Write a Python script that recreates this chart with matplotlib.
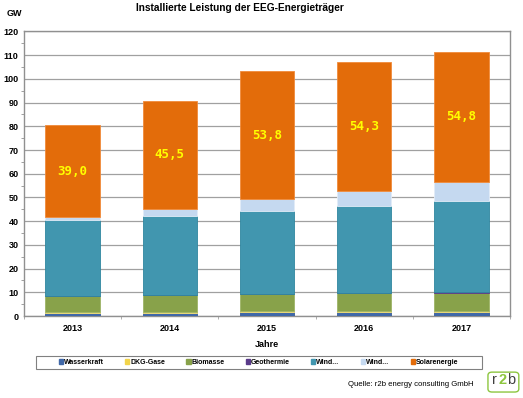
import numpy as np
import matplotlib
matplotlib.use('Agg')
import matplotlib.pyplot as plt
from matplotlib.patches import FancyBboxPatch, Patch, Rectangle

# data (GW)
years = ['2013', '2014', '2015', '2016', '2017']
wasserkraft = [1.4, 1.4, 1.5, 1.6, 1.6]
dkg_gase = [0.5, 0.5, 0.5, 0.5, 0.5]
biomasse = [6.4, 6.8, 7.2, 7.4, 7.8]
geothermie = [0.03, 0.03, 0.03, 0.04, 0.04]
wind_onshore = [32.1, 33.4, 35.0, 37.0, 38.7]
wind_offshore = [1.2, 3.1, 5.1, 6.2, 7.9]
solar = [39.0, 45.5, 53.8, 54.3, 54.8]

series = [wasserkraft, dkg_gase, biomasse, geothermie, wind_onshore, wind_offshore, solar]
names = ['Wasserkraft', 'DKG-Gase', 'Biomasse', 'Geothermie', 'Wind...', 'Wind...', 'Solarenergie']
colors = ['#4068A8', '#F2D44A', '#88A24A', '#5A3A8A', '#4196AF', '#C5D9F0', '#E36C0A']
edges = ['#3A5E98', '#F6E27A', '#9DB466', '#5A3A8A', '#2F86A0', '#E2ECF8', '#F08A3A']

plt.rcParams['font.family'] = ['Liberation Sans', 'DejaVu Sans']

fig = plt.figure(figsize=(5.23, 3.98), dpi=100)
ax = fig.add_axes([0.046, 0.206, 0.929, 0.715])

x = np.arange(len(years))
bottom = np.zeros(len(years))
for vals, c, ec in zip(series, colors, edges):
    ax.bar(x, vals, 0.56, bottom=bottom, color=c, edgecolor=ec, linewidth=0.6, zorder=3)
    bottom += np.array(vals)

# labels for the solar values
solar_base = bottom - np.array(solar)
for i, v in enumerate(solar):
    ax.text(x[i], solar_base[i] + v / 2, f'{v:.1f}'.replace('.', ','), ha='center', va='center',
            color='#FFFF00', fontsize=9, fontweight='bold', family='DejaVu Sans Mono', zorder=4)

ax.set_xlim(-0.5, len(years) - 0.5)
ax.set_ylim(0, 120)
ax.set_yticks(range(0, 121, 10))
ax.set_yticks(range(5, 120, 10), minor=True)
ax.set_xticks(x)
ax.set_xticklabels(years)
ax.set_xticks(np.arange(-0.5, len(years), 1), minor=True)
ax.tick_params(axis='x', which='major', length=0, labelsize=6.5, pad=6)
ax.tick_params(axis='x', which='minor', length=2, color='#A0A0A0')
ax.tick_params(axis='y', which='major', length=0, labelsize=6.5, pad=4)
ax.tick_params(axis='y', which='minor', length=2, color='#909090')
for lab in ax.get_xticklabels() + ax.get_yticklabels():
    lab.set_fontweight('bold')

ax.yaxis.grid(True, color='#A0A0A0', linewidth=0.9, zorder=0)
for s in ax.spines.values():
    s.set_color('#909090')
    s.set_linewidth(1.0)

ax.set_xlabel('Jahre', fontsize=6.5, fontweight='bold', labelpad=5)

fig.text(0.459, 0.98, 'Installierte Leistung der EEG-Energieträger', ha='center', va='center',
         fontsize=7.3, fontweight='bold')
fig.text(0.012, 0.967, 'GW', ha='left', va='center', fontsize=6.5, fontweight='bold')

# legend with a manual frame
fig.patches.append(Rectangle((36 / 523, 1 - 369 / 398), 446 / 523, 13.5 / 398, transform=fig.transFigure,
                             facecolor='white', edgecolor='#808080', linewidth=0.8))
handles = [Patch(facecolor=c, edgecolor=c) for c in colors]
leg = fig.legend(handles, names, loc='center', bbox_to_anchor=(0.494, 1 - 362.5 / 398), ncol=7,
                 fontsize=5, frameon=False, handlelength=0.6, handleheight=0.6,
                 handletextpad=0.1, columnspacing=3.1, borderpad=0.2)
for t in leg.get_texts():
    t.set_fontweight('bold')

fig.text(0.905, 1 - 384 / 398, 'Quelle: r2b energy consulting GmbH', ha='right', va='center', fontsize=5.6)

# r2b logo
logo = FancyBboxPatch((0.933, 0.015), 0.059, 0.05, boxstyle='round,pad=0.0,rounding_size=0.008',
                      transform=fig.transFigure, facecolor='white', edgecolor='#8DC63F', linewidth=1.0)
fig.patches.append(logo)
fig.text(0.945, 0.045, 'r', ha='center', va='center', fontsize=10.5, color='#404040')
fig.text(0.9615, 0.045, '2', ha='center', va='center', fontsize=10.5, color='#8DC63F', fontweight='bold')
fig.text(0.978, 0.045, 'b', ha='center', va='center', fontsize=10.5, color='#404040')

fig.savefig('out.png', dpi=100)
